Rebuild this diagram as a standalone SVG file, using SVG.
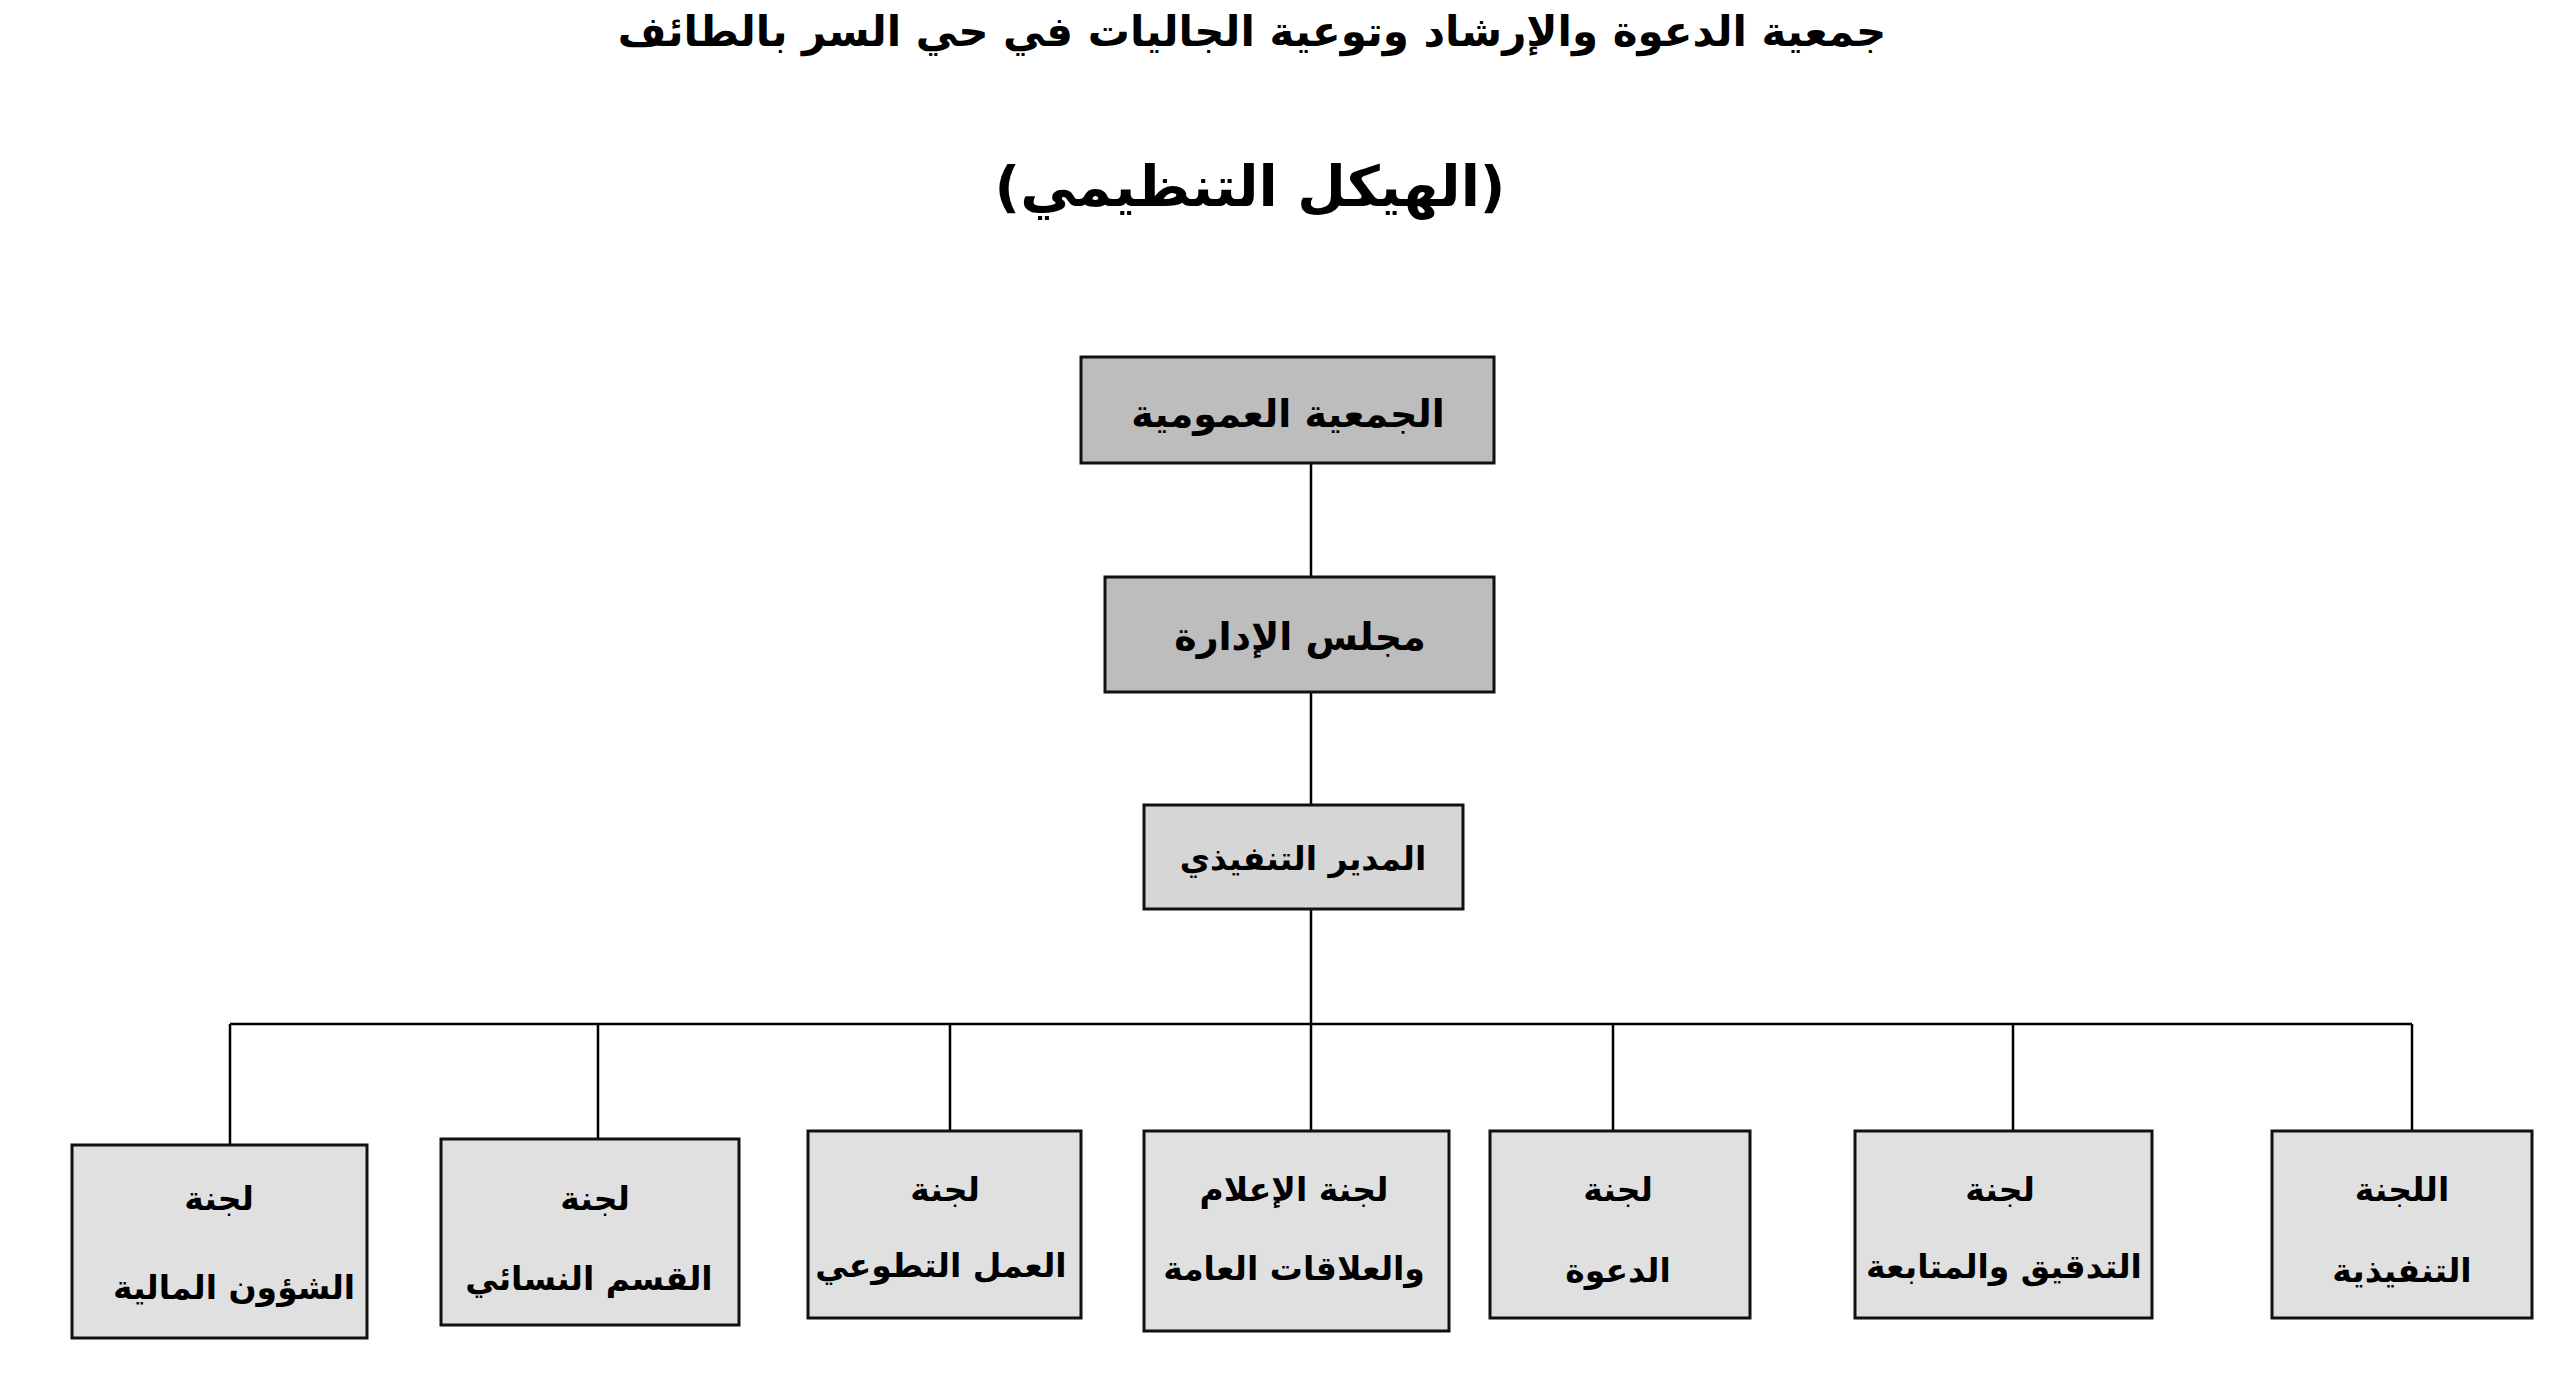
<svg xmlns="http://www.w3.org/2000/svg" width="2560" height="1375" viewBox="0 0 2560 1375">
<style>
text{font-family:"DejaVu Sans","Noto Sans",sans-serif;font-weight:bold;fill:#000;text-anchor:middle;direction:rtl}
.box{stroke:#111;stroke-width:3}
.d{fill:#bdbdbd}.l{fill:#d6d6d6}.c{fill:#e0e0e0}
.t{font-size:38px}
.s{font-size:33px}
.ln{stroke:#000;stroke-width:2.5;fill:none}
</style>
<rect width="2560" height="1375" fill="#fff"/>
<text x="1252" y="46" style="font-size:42px">جمعية الدعوة والإرشاد وتوعية الجاليات في حي السر بالطائف</text>
<text x="1250" y="206" style="font-size:56px">(الهيكل التنظيمي)</text>
<g id="connectors" class="ln">
<path d="M1311 462V577M1311 692V805M1311 909V1131M230 1024H2412M230 1024V1145M598 1024V1139M950 1024V1131M1613 1024V1131M2013 1024V1131M2412 1024V1131"/>
</g>
<g id="n1"><rect class="box d" x="1081" y="357" width="413" height="106"/><text class="t" x="1288" y="427">الجمعية العمومية</text></g>
<g id="n2"><rect class="box d" x="1105" y="577" width="389" height="115"/><text class="t" x="1300" y="650">مجلس الإدارة</text></g>
<g id="n3"><rect class="box l" x="1144" y="805" width="319" height="104"/><text class="s" x="1303" y="870">المدير التنفيذي</text></g>
<g id="b1"><rect class="box c" x="72" y="1145" width="295" height="193"/><text class="s" x="219" y="1210">لجنة</text><text class="s" x="234" y="1299">الشؤون المالية</text></g>
<g id="b2"><rect class="box c" x="441" y="1139" width="298" height="186"/><text class="s" x="595" y="1210">لجنة</text><text class="s" x="589" y="1290">القسم النسائي</text></g>
<g id="b3"><rect class="box c" x="808" y="1131" width="273" height="187"/><text class="s" x="945" y="1201">لجنة</text><text class="s" x="941" y="1277">العمل التطوعي</text></g>
<g id="b4"><rect class="box c" x="1144" y="1131" width="305" height="200"/><text class="s" x="1294" y="1201">لجنة الإعلام</text><text class="s" x="1294" y="1280">والعلاقات العامة</text></g>
<g id="b5"><rect class="box c" x="1490" y="1131" width="260" height="187"/><text class="s" x="1618" y="1201">لجنة</text><text class="s" x="1618" y="1282">الدعوة</text></g>
<g id="b6"><rect class="box c" x="1855" y="1131" width="297" height="187"/><text class="s" x="2000" y="1201">لجنة</text><text class="s" x="2004" y="1278">التدقيق والمتابعة</text></g>
<g id="b7"><rect class="box c" x="2272" y="1131" width="260" height="187"/><text class="s" x="2402" y="1201">اللجنة</text><text class="s" x="2402" y="1282">التنفيذية</text></g>
</svg>
